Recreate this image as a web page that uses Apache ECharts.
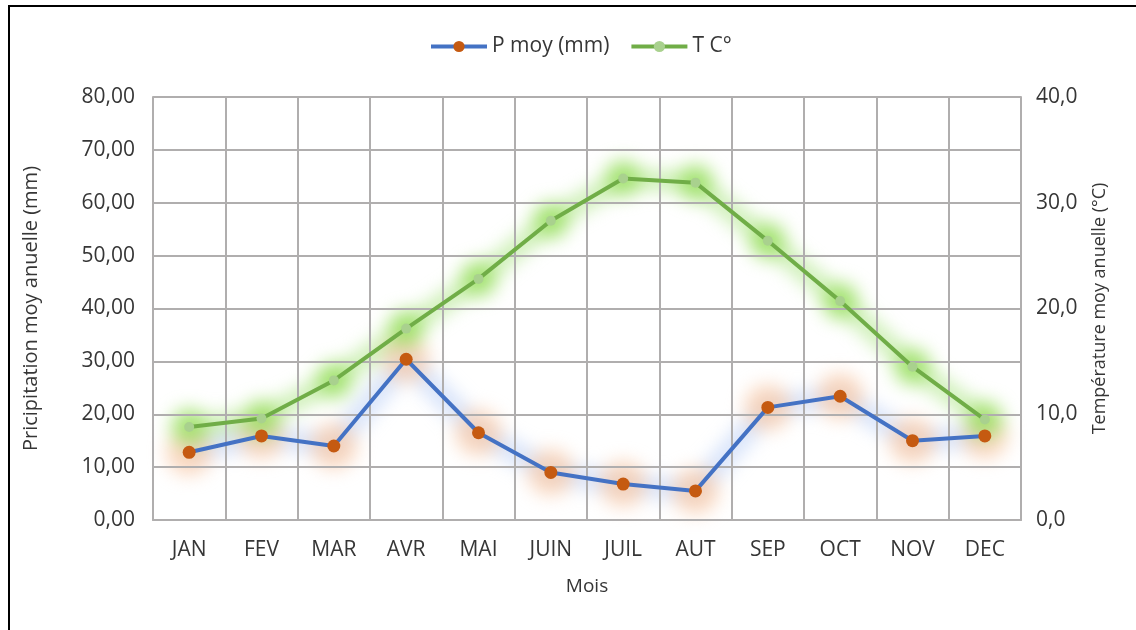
<!DOCTYPE html>
<html>
<head>
<meta charset="utf-8">
<script src="https://cdn.jsdelivr.net/npm/echarts@6/dist/echarts.min.js"></script>
<style>
  html, body { margin: 0; padding: 0; background: #fff; }
  #wrap { position: relative; width: 1136px; height: 630px; background: #fff; overflow: hidden; }
  #glow, #chart { position: absolute; left: 0; top: 0; width: 1136px; height: 630px; }
  #glow { filter: blur(9px); }
</style>
</head>
<body>
<div id="wrap">
  <div id="glow"></div>
  <div id="chart"></div>
</div>
<script>
// Monthly climate data
const months = ['JAN', 'FEV', 'MAR', 'AVR', 'MAI', 'JUIN', 'JUIL', 'AUT', 'SEP', 'OCT', 'NOV', 'DEC'];
const precipitation = [12.8, 15.9, 14.0, 30.4, 16.5, 9.0, 6.8, 5.5, 21.3, 23.4, 15.0, 15.9];
const temperature = [8.8, 9.6, 13.2, 18.1, 22.8, 28.3, 32.3, 31.9, 26.4, 20.7, 14.5, 9.5];
const precipTicks = { min: 0, max: 80, interval: 10 };
const tempTicks = { min: 0, max: 40, interval: 5 };

const FONT = 'Open Sans';
const TXT = '#363636';
const GRID = '#b0aeae';
const GRID_BOX = { left: 153, right: 115, top: 97, bottom: 110 };

// Soft glow layer: thick translucent strokes, blurred by CSS underneath the chart
const glow = echarts.init(document.getElementById('glow'), null, { renderer: 'canvas' });
function glowSeries(data, axis, lineCol, lineW, dotCol, dotSize) {
  return {
    type: 'line', yAxisIndex: axis, data: data, silent: true,
    symbol: 'circle', symbolSize: dotSize,
    lineStyle: { color: lineCol, width: lineW },
    itemStyle: { color: dotCol }
  };
}
glow.setOption({
  animation: false,
  grid: GRID_BOX,
  xAxis: { type: 'category', data: months, show: false },
  yAxis: [
    { type: 'value', min: precipTicks.min, max: precipTicks.max, show: false },
    { type: 'value', min: tempTicks.min, max: tempTicks.max, show: false }
  ],
  series: [
    glowSeries(precipitation, 0, 'rgba(175,200,245,0.5)', 22, 'rgba(248,200,165,0.7)', 46),
    glowSeries(temperature, 1, 'rgba(170,228,130,0.6)', 20, 'rgba(155,225,100,0.85)', 36)
  ]
});

const chart = echarts.init(document.getElementById('chart'), null, { renderer: 'canvas' });
chart.setOption({
  backgroundColor: 'transparent',
  animation: false,
  textStyle: { fontFamily: FONT, color: TXT },
  graphic: [
    { type: 'line', shape: { x1: 8, y1: 6, x2: 1136, y2: 6 }, style: { stroke: '#000', lineWidth: 2 } },
    { type: 'line', shape: { x1: 9, y1: 5, x2: 9, y2: 630 }, style: { stroke: '#000', lineWidth: 2 } }
  ],
  legend: {
    top: 31,
    left: 424,
    itemWidth: 56,
    itemHeight: 14,
    itemGap: 20,
    textStyle: { fontFamily: FONT, fontSize: 21, color: TXT },
    data: [
      { name: 'P moy (mm)', lineStyle: { width: 4 } },
      { name: 'T C°', lineStyle: { width: 4 } }
    ]
  },
  grid: GRID_BOX,
  xAxis: {
    type: 'category',
    data: months,
    boundaryGap: true,
    name: 'Mois',
    nameLocation: 'middle',
    nameGap: 57,
    nameTextStyle: { fontFamily: FONT, fontSize: 19, color: TXT },
    axisLine: { show: true, lineStyle: { color: GRID, width: 2 } },
    axisTick: { show: false },
    axisLabel: { fontFamily: FONT, fontSize: 21, color: TXT, margin: 20 },
    splitLine: { show: true, lineStyle: { color: GRID, width: 2 } }
  },
  yAxis: [
    {
      type: 'value',
      min: precipTicks.min, max: precipTicks.max, interval: precipTicks.interval,
      name: 'Pricipitation moy anuelle (mm)',
      nameLocation: 'middle',
      nameGap: 112,
      nameTextStyle: { fontFamily: FONT, fontSize: 20, color: TXT },
      axisLine: { show: true, lineStyle: { color: GRID, width: 2 } },
      axisTick: { show: false },
      axisLabel: {
        fontFamily: FONT, fontSize: 21, color: TXT, margin: 18,
        formatter: v => v.toFixed(2).replace('.', ',')
      },
      splitLine: { show: true, lineStyle: { color: GRID, width: 2 } }
    },
    {
      type: 'value',
      position: 'right',
      min: tempTicks.min, max: tempTicks.max, interval: tempTicks.interval,
      name: 'Température moy anuelle (°C)',
      nameLocation: 'middle',
      nameGap: 70,
      nameRotate: 90,
      nameTextStyle: { fontFamily: FONT, fontSize: 18, color: TXT },
      axisLine: { show: true, lineStyle: { color: GRID, width: 2 } },
      axisTick: { show: false },
      axisLabel: {
        fontFamily: FONT, fontSize: 21, color: TXT, margin: 15,
        formatter: v => (v % 10 === 0 ? v.toFixed(1).replace('.', ',') : '')
      },
      splitLine: { show: false }
    }
  ],
  series: [
    {
      name: 'P moy (mm)',
      type: 'line',
      yAxisIndex: 0,
      data: precipitation,
      symbol: 'circle',
      symbolSize: 13,
      color: '#c55a11',
      lineStyle: { color: '#4472c4', width: 4 },
      itemStyle: { color: '#c55a11' },
      z: 3
    },
    {
      name: 'T C°',
      type: 'line',
      yAxisIndex: 1,
      data: temperature,
      symbol: 'circle',
      symbolSize: 10,
      color: '#a9d18e',
      lineStyle: { color: '#70ad47', width: 4 },
      itemStyle: { color: '#a9d18e' },
      z: 4
    }
  ]
});
</script>
</body>
</html>
